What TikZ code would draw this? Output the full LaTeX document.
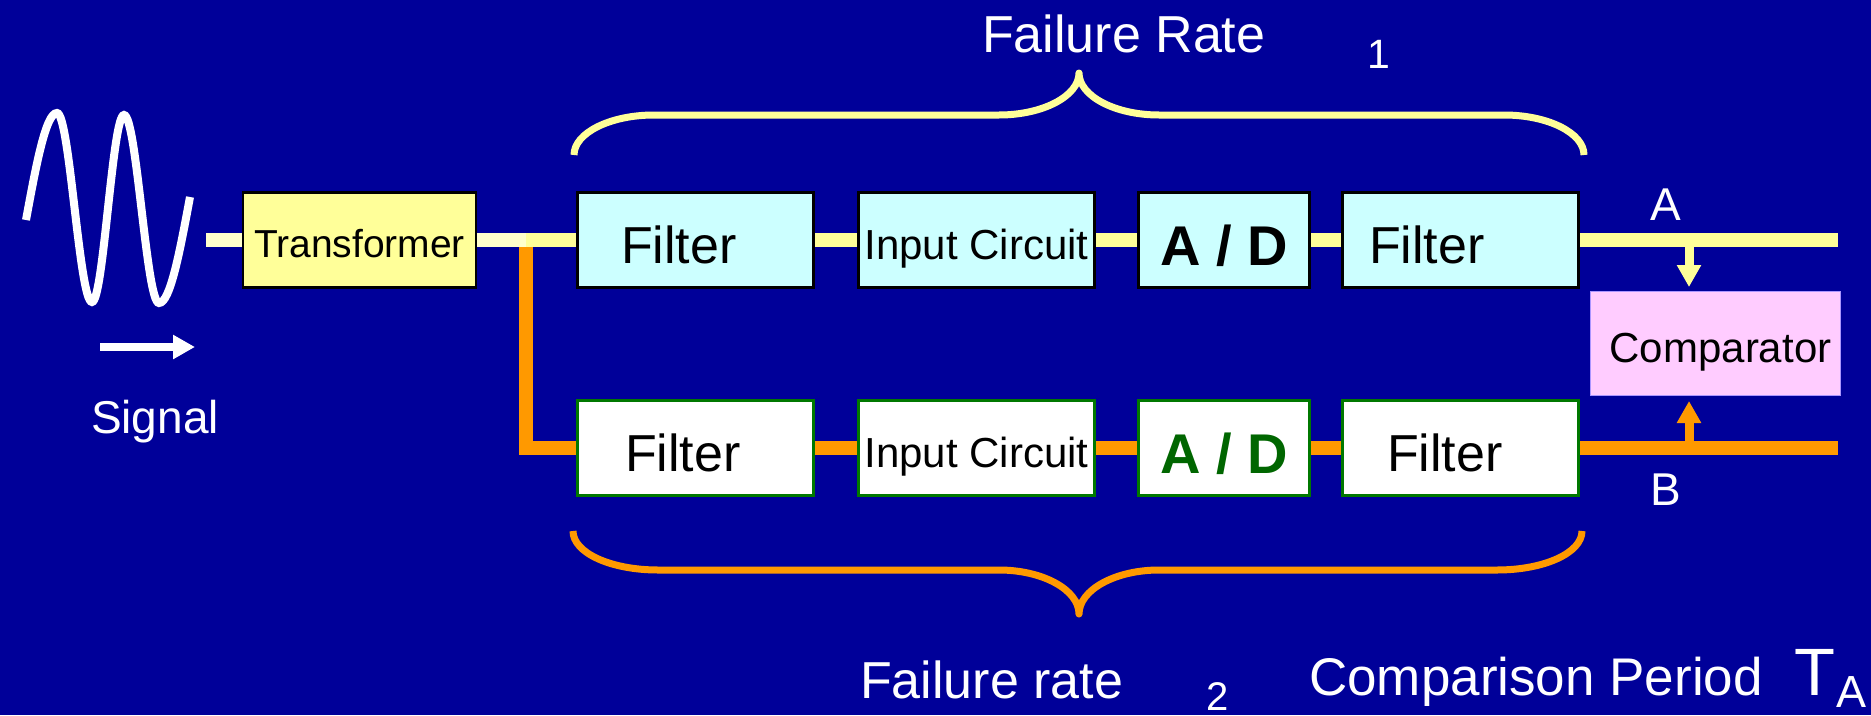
\documentclass[tikz,border=0pt]{standalone}
\usepackage{fontspec}
\setmainfont{Liberation Sans}
\usetikzlibrary{arrows.meta}
\definecolor{bgblue}{RGB}{0,0,153}
\definecolor{paleyellow}{RGB}{255,255,204}
\definecolor{lineyellow}{RGB}{255,255,153}
\definecolor{lineorange}{RGB}{255,153,0}
\definecolor{boxcyan}{RGB}{204,255,255}
\definecolor{boxpink}{RGB}{255,204,255}
\definecolor{cmpedge}{RGB}{170,150,255}
\definecolor{boxgreen}{RGB}{0,120,0}
\definecolor{adgreen}{RGB}{0,102,0}
\begin{document}
\begin{tikzpicture}[
    x=1pt, y=-1pt,
    fs/.style={font=\fontsize{#1}{#1}\selectfont},
    blk/.style={draw, line width=3pt, minimum height=95pt, inner sep=0pt},
    rowA/.style={blk, fill=boxcyan},
    rowB/.style={blk, draw=boxgreen, fill=white},
    flt/.style={minimum width=236pt, text width=#1, align=left, fs=52, text height=47pt, text depth=0pt},
    inc/.style={minimum width=236pt, fs=42, text height=38pt, text depth=0pt},
    adc/.style={minimum width=171pt, font=\fontsize{56}{56}\selectfont\bfseries, text height=50pt, text depth=0pt},
    wire/.style={line width=14pt},
    tap/.style={line width=9pt, -{Triangle[width=23pt,length=22pt]}},
    brace/.style={line width=7pt, line join=round},
    lbl/.style={text=white, inner sep=0pt}
]
\useasboundingbox (0,0) rectangle (1871,715);
\fill[bgblue] (0,0) rectangle (1871,715);

% signal source
\draw[white, line width=8pt] (26,220) sin (57,113) cos (74.5,207.5) sin (92,302)
    cos (108,208) sin (124,115) cos (141.5,209) sin (159,303) cos (190,197);
\coordinate (sigL) at (100,347);
\coordinate (sigR) at (195,347);
\draw[white, line width=8pt, -{Triangle[width=23pt,length=22pt]}] (sigL) -- (sigR);
\node[lbl, fs=46, anchor=base] (sig) at (155,433) {Signal};

% boxes
\node[blk, line width=2.5pt, fill=lineyellow, minimum width=233pt, fs=39,
      text height=35pt, text depth=0pt] (trans) at (359.5,240) {Transformer};
\node[rowA, flt=149pt] (fA1) at (695.5,240) {Filter};
\node[rowA, inc] (icA) at (976.5,240) {Input Circuit};
\node[rowA, adc] (adA) at (1224,240) {A / D};
\node[rowA, flt=183pt] (fA2) at (1460.5,240) {Filter};
\node[rowB, flt=141pt] (fB1) at (695.5,448) {Filter};
\node[rowB, inc] (icB) at (976.5,448) {Input Circuit};
\node[rowB, adc, text=adgreen] (adB) at (1224,448) {A / D};
\node[rowB, flt=147pt] (fB2) at (1460.5,448) {Filter};
\node[draw=cmpedge, line width=1pt, fill=boxpink, minimum width=250pt, minimum height=104pt,
      inner sep=0pt, fs=42, text height=38pt, text depth=0pt] (cmp) at (1715.5,343.5) {\hspace{10pt}Comparator};

% wires
\coordinate (src) at (206,240);
\coordinate (split) at (526,240);
\coordinate (outA) at (1838,240);
\coordinate (outB) at (1838,448);
\coordinate (tapA) at (1689,240);
\coordinate (tapB) at (1689,448);
\draw[wire, lineorange] (split) |- (fB1.west);
\draw[wire, paleyellow] (src) -- (trans.west);
\draw[wire, paleyellow] (trans.east) -- (split);
\draw[wire, lineyellow] (split) -- (fA1.west);
\draw[wire, lineyellow] (fA1.east) -- (icA.west);
\draw[wire, lineyellow] (icA.east) -- (adA.west);
\draw[wire, lineyellow] (adA.east) -- (fA2.west);
\draw[wire, lineyellow] (fA2.east) -- (outA);
\draw[wire, lineorange] (fB1.east) -- (icB.west);
\draw[wire, lineorange] (icB.east) -- (adB.west);
\draw[wire, lineorange] (adB.east) -- (fB2.west);
\draw[wire, lineorange] (fB2.east) -- (outB);
\draw[tap, lineyellow, shorten >=4pt] (tapA) -- (tapA |- cmp.north);
\draw[tap, lineorange, shorten >=5pt] (tapB) -- (tapB |- cmp.south);
\node[lbl, fs=46, anchor=base] (labA) at (1666,220) {A};
\node[lbl, fs=46, anchor=base] (labB) at (1666,505) {B};

% braces
\draw[brace, lineyellow] (574,155) .. controls (574,133) and (610,115) .. (654,115) -- (999,115)
    .. controls (1043,115) and (1079,96) .. (1079,73)
    .. controls (1079,96) and (1115,115) .. (1159,115) -- (1504,115)
    .. controls (1548,115) and (1584,133) .. (1584,155);
\draw[brace, lineorange] (573,531) .. controls (573,553) and (611,570) .. (658,570) -- (999,570)
    .. controls (1043,570) and (1079,590) .. (1079,614)
    .. controls (1079,590) and (1115,570) .. (1159,570) -- (1497,570)
    .. controls (1544,570) and (1582,553) .. (1582,531);

% labels
\node[lbl, fs=52, anchor=base west] (rate1) at (982,52) {Failure Rate};
\node[lbl, fs=41, anchor=base west] (idx1) at (1367,68) {1};
\node[lbl, fs=52, anchor=base west] (rate2) at (860,698) {Failure rate};
\node[lbl, fs=40, anchor=base west] (idx2) at (1206,710) {2};
\node[lbl, fs=53, anchor=base west] (period) at (1309,695) {Comparison Period};
\node[lbl, fs=67, anchor=base west] (tA) at (1794,695) {T};
\node[lbl, fs=45, anchor=base west] (tAsub) at (1836,707) {A};
\end{tikzpicture}
\end{document}
